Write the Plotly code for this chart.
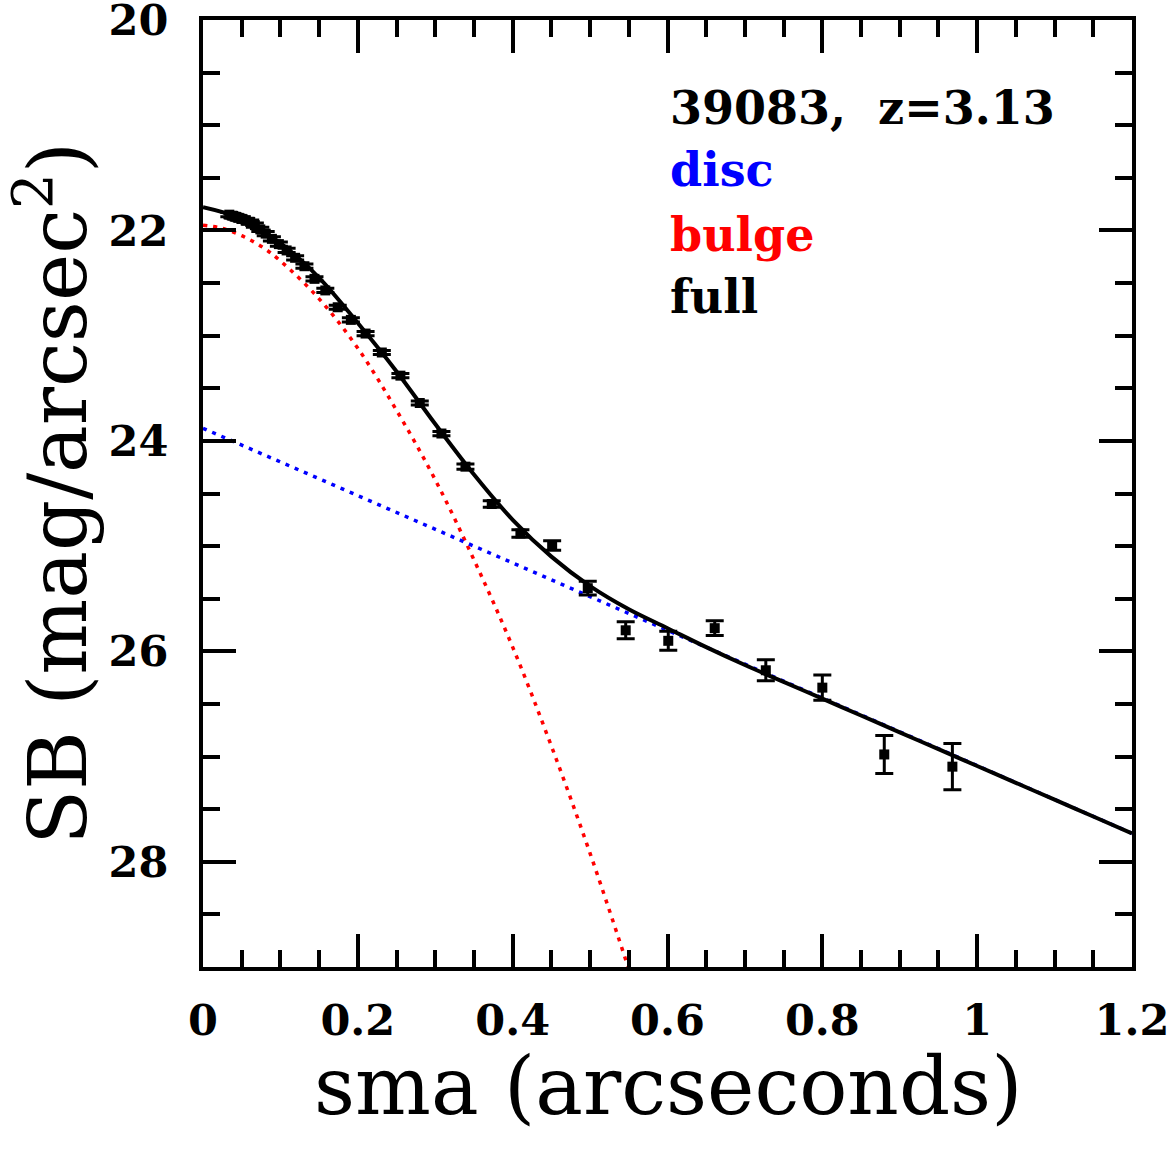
import plotly.graph_objects as go

# ---- data ----
sma = [0.034, 0.038, 0.042, 0.046, 0.050, 0.055, 0.061, 0.067, 0.074, 0.081,
       0.089, 0.098, 0.108, 0.119, 0.131, 0.144, 0.158, 0.174, 0.191, 0.210,
       0.231, 0.255, 0.280, 0.308, 0.339, 0.373, 0.410, 0.451, 0.497, 0.546,
       0.601, 0.661, 0.727, 0.800, 0.880, 0.968]
sb = [21.85, 21.86, 21.87, 21.88, 21.89, 21.905, 21.92, 21.95, 21.99, 22.03,
      22.08, 22.13, 22.19, 22.26, 22.34, 22.46, 22.57, 22.73, 22.85, 22.98,
      23.16, 23.38, 23.64, 23.93, 24.245, 24.60, 24.88, 24.995, 25.40, 25.80,
      25.90, 25.78, 26.18, 26.345, 26.98, 27.096]
sb_err = [0.02, 0.02, 0.02, 0.02, 0.02, 0.02, 0.02, 0.02, 0.02, 0.02,
          0.02, 0.02, 0.02, 0.02, 0.02, 0.02, 0.02, 0.02, 0.02, 0.02,
          0.02, 0.02, 0.02, 0.02, 0.025, 0.03, 0.035, 0.045, 0.065, 0.08,
          0.09, 0.07, 0.10, 0.12, 0.18, 0.22]

model_x = [0.0, 0.05, 0.10, 0.15, 0.20, 0.25, 0.30, 0.35, 0.40, 0.45, 0.50,
           0.55, 0.60, 0.65, 0.70, 0.75, 0.80, 0.85, 0.90, 0.95, 1.00, 1.05,
           1.10, 1.15, 1.20]
full_sb = [21.78, 21.89, 22.12, 22.45, 22.88, 23.34, 23.84, 24.32, 24.75, 25.10,
           25.38, 25.60, 25.78, 25.96, 26.13, 26.29, 26.45, 26.61, 26.77, 26.93,
           27.09, 27.25, 27.41, 27.57, 27.73]

bulge_x = [0.0, 0.025, 0.05, 0.075, 0.10, 0.15, 0.20, 0.25, 0.30, 0.35, 0.40,
           0.45, 0.50, 0.55]
bulge_sb = [21.95, 21.98, 22.05, 22.15, 22.29, 22.65, 23.12, 23.71, 24.37, 25.13,
            25.96, 26.90, 27.92, 29.02]

disc_x = [0.0, 0.6, 1.2]
disc_sb = [23.88, 25.80, 27.73]

label_title = "39083,  z=3.13"

FONT = "DejaVu Serif"

fig = go.Figure()

fig.add_trace(go.Scatter(x=bulge_x, y=bulge_sb, mode="lines",
                         line=dict(color="#ff0000", width=3.5, dash="4px,6px", shape="spline"),
                         hoverinfo="skip"))
fig.add_trace(go.Scatter(x=disc_x, y=disc_sb, mode="lines",
                         line=dict(color="#0000ff", width=3.5, dash="4px,6px"),
                         hoverinfo="skip"))
fig.add_trace(go.Scatter(x=model_x, y=full_sb, mode="lines",
                         line=dict(color="black", width=4, shape="spline"),
                         hoverinfo="skip"))
fig.add_trace(go.Scatter(x=sma, y=sb, mode="markers",
                         marker=dict(symbol="square", size=10, color="black"),
                         error_y=dict(type="data", array=sb_err, visible=True,
                                      color="black", thickness=3, width=9)))

axis_common = dict(
    showline=True, linecolor="black", linewidth=4, mirror="ticks",
    ticks="inside", tickcolor="black", tickwidth=4, ticklen=33,
    showgrid=False, zeroline=False, ticklabeloverflow="allow", automargin=False,
    tickfont=dict(family=FONT, size=43, color="black", weight="bold"),
)

fig.update_xaxes(range=[0, 1.2], dtick=0.2, tick0=0,
                 minor=dict(ticks="inside", ticklen=17, tickwidth=4, dtick=0.05,
                            tickcolor="black", showgrid=False),
                 ticklabelstandoff=12,
                 **axis_common)
fig.update_yaxes(range=[29, 20], dtick=2, tick0=20,
                 minor=dict(ticks="inside", ticklen=17, tickwidth=4, dtick=0.5,
                            tickcolor="black", showgrid=False),
                 ticklabelstandoff=22,
                 title=dict(text="SB (mag/arcsec<sup>2</sup>)",
                            font=dict(family=FONT, size=80, color="black"), standoff=10),
                 **axis_common)

# x-axis title placed as paper annotation for precise vertical position
fig.add_annotation(x=0.5, y=-0.126, xref="paper", yref="paper", text="sma (arcseconds)",
                   showarrow=False, xanchor="center", yanchor="middle",
                   font=dict(family=FONT, size=80, color="black"))

ann = [(label_title, "black", 20.84), ("disc", "#0000ff", 21.43),
       ("bulge", "#ff0000", 22.04), ("full", "black", 22.63)]
for txt, col, yv in ann:
    fig.add_annotation(x=0.600, y=yv, xref="x", yref="y", text=txt, showarrow=False,
                       xanchor="left", yanchor="middle",
                       font=dict(family=FONT, size=46, color=col, weight="bold"))

fig.update_layout(
    width=1171, height=1153,
    margin=dict(l=203, r=39, t=20, b=186),
    paper_bgcolor="white", plot_bgcolor="white",
    showlegend=False,
)

fig.write_html("out.html")
